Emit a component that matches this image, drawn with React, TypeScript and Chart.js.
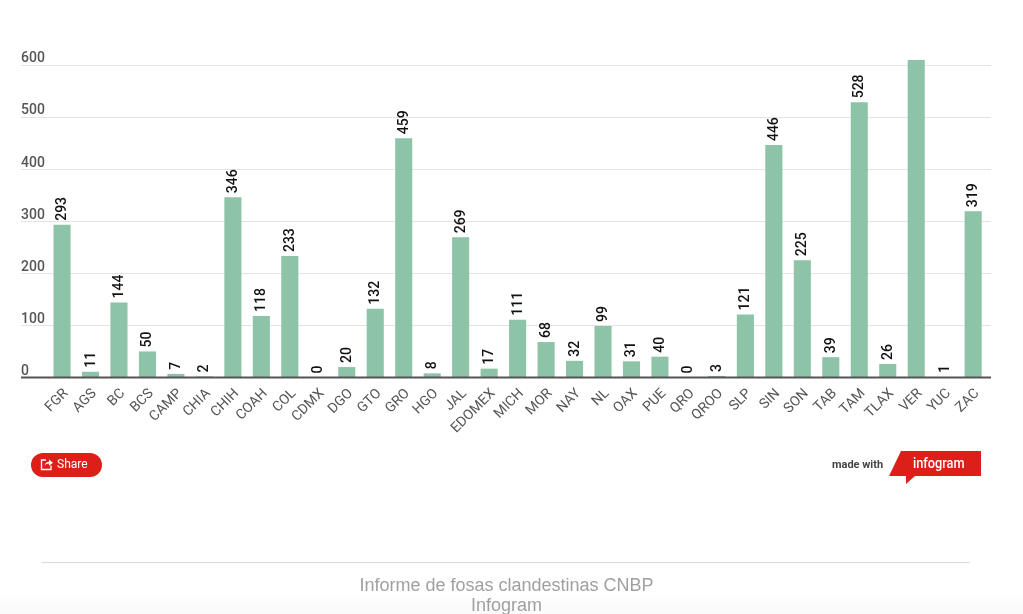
import React, { useEffect, useRef } from "react";
import { Chart, registerables } from "chart.js";

Chart.register(...registerables);

const categories = ["FGR","AGS","BC","BCS","CAMP","CHIA","CHIH","COAH","COL","CDMX","DGO","GTO","GRO","HGO","JAL","EDOMEX","MICH","MOR","NAY","NL","OAX","PUE","QRO","QROO","SLP","SIN","SON","TAB","TAM","TLAX","VER","YUC","ZAC"];
const fosas = [293,11,144,50,7,2,346,118,233,0,20,132,459,8,269,17,111,68,32,99,31,40,0,3,121,446,225,39,528,26,609,1,319];
const axisMax = 600;
const axisStep = 100;

const GRID_LEFT = 21;
const GRID_RIGHT = 991;

const gridPlugin = {
  id: "wideGrid",
  beforeDatasetsDraw(chart: any) {
    const { ctx, scales } = chart;
    ctx.save();
    scales.y.ticks.forEach((t: any) => {
      if (t.value === 0) return;
      const y = Math.round(scales.y.getPixelForValue(t.value)) + 0.5;
      ctx.strokeStyle = "#e3e3e3";
      ctx.lineWidth = 1;
      ctx.beginPath();
      ctx.moveTo(GRID_LEFT, y);
      ctx.lineTo(GRID_RIGHT, y);
      ctx.stroke();
    });
    ctx.restore();
  },
  afterDatasetsDraw(chart: any) {
    const { ctx, scales } = chart;
    const y0 = scales.y.getPixelForValue(0);
    ctx.save();
    ctx.strokeStyle = "#555555";
    ctx.lineWidth = 2;
    ctx.beginPath();
    ctx.moveTo(GRID_LEFT, y0);
    ctx.lineTo(GRID_RIGHT, y0);
    ctx.stroke();
    const meta = chart.getDatasetMeta(0);
    ctx.fillStyle = "#111111";
    ctx.font = "500 14px Roboto";
    ctx.textAlign = "left";
    ctx.textBaseline = "middle";
    meta.data.forEach((bar: any, i: number) => {
      const v = fosas[i];
      if (v > axisMax) return;
      ctx.save();
      ctx.translate(bar.x + 0.5, bar.y - 4);
      ctx.rotate(-Math.PI / 2);
      ctx.fillText(String(v), 0, 0);
      ctx.restore();
    });
    ctx.restore();
  },
};

export default function App() {
  const ref = useRef<HTMLCanvasElement>(null);
  useEffect(() => {
    document.body.style.margin = "0";
    document.body.style.background = "#fff";
    const chart = new Chart(ref.current!, {
      type: "bar",
      data: {
        labels: categories,
        datasets: [{
          data: fosas,
          backgroundColor: "#8dc3a7",
          barPercentage: 1,
          categoryPercentage: 0.6,
          clip: false as any,
        }],
      },
      plugins: [gridPlugin],
      options: {
        animation: false,
        responsive: false,
        layout: { padding: { left: GRID_LEFT, right: 1023 - 987.4, top: 64.8, bottom: 156.5 } },
        plugins: { legend: { display: false }, tooltip: { enabled: false } },
        scales: {
          x: {
            grid: { display: false },
            border: { display: false },
            afterFit(s: any) { s.height = 80; },
            ticks: {
              autoSkip: false,
              minRotation: 45,
              maxRotation: 45,
              padding: 0,
              labelOffset: 4,
              color: "#555555",
              font: { family: "Roboto", size: 14 },
            },
          },
          y: {
            min: 0,
            max: axisMax,
            grid: { display: false },
            border: { display: false },
            afterFit(s: any) { s.width = 26.8; },
            ticks: {
              stepSize: axisStep,
              crossAlign: "far",
              labelOffset: -6,
              color: "#555555",
              font: { family: "Roboto", size: 14, weight: "500" },
            },
          },
        },
      },
    });
    return () => chart.destroy();
  }, []);

  return (
    <div style={{ position: "relative", width: 1023, height: 614, overflow: "hidden", background: "linear-gradient(#fff 0, #fff 590px, #fafafa 614px)" }}>
      <canvas ref={ref} width={1023} height={614} style={{ position: "absolute", left: 0, top: 0, width: 1023, height: 614 }} />
      <div style={{ position: "absolute", left: 31, top: 453, width: 71, height: 24, borderRadius: 12, background: "#dc2019", color: "#fff", font: "400 12px Roboto", lineHeight: "23px" }}>
        <svg width="14" height="14" viewBox="0 0 14 14" style={{ position: "absolute", left: 9, top: 4 }}>
          <path d="M6 3H1.5V12.5H11V8.5" fill="none" stroke="#fff" strokeWidth="1.3" />
          <path d="M4.5 9C5 6 7 4.8 9 4.8V2.5L13 5.7L9 8.7V6.6C7 6.6 5.5 7.3 4.5 9Z" fill="#fff" />
        </svg>
        <span style={{ position: "absolute", left: 26 }}>Share</span>
      </div>
      <div style={{ position: "absolute", left: 832, top: 458, color: "#444", font: "700 11px Roboto", lineHeight: "14px", whiteSpace: "nowrap" }}>made with</div>
      <svg width="94" height="36" viewBox="0 0 94 36" style={{ position: "absolute", left: 889, top: 450 }}>
        <path d="M12 1H92V26H26L17 34V26H0Z" fill="#dc2019" />
      </svg>
      <div style={{ position: "absolute", left: 913, top: 454, color: "#fff", font: "500 15px Roboto", lineHeight: "18px", transform: "scaleX(0.85)", transformOrigin: "left", whiteSpace: "nowrap" }}>infogram</div>
      <div style={{ position: "absolute", left: 42, top: 562, width: 928, height: 1, background: "#d9d9d9" }} />
      <div style={{ position: "absolute", left: 0, width: 1013, top: 575, textAlign: "center", color: "#a0a0a0", font: "18px 'Liberation Sans'", lineHeight: "20px" }}>
        Informe de fosas clandestinas CNBP<br />Infogram
      </div>
    </div>
  );
}
